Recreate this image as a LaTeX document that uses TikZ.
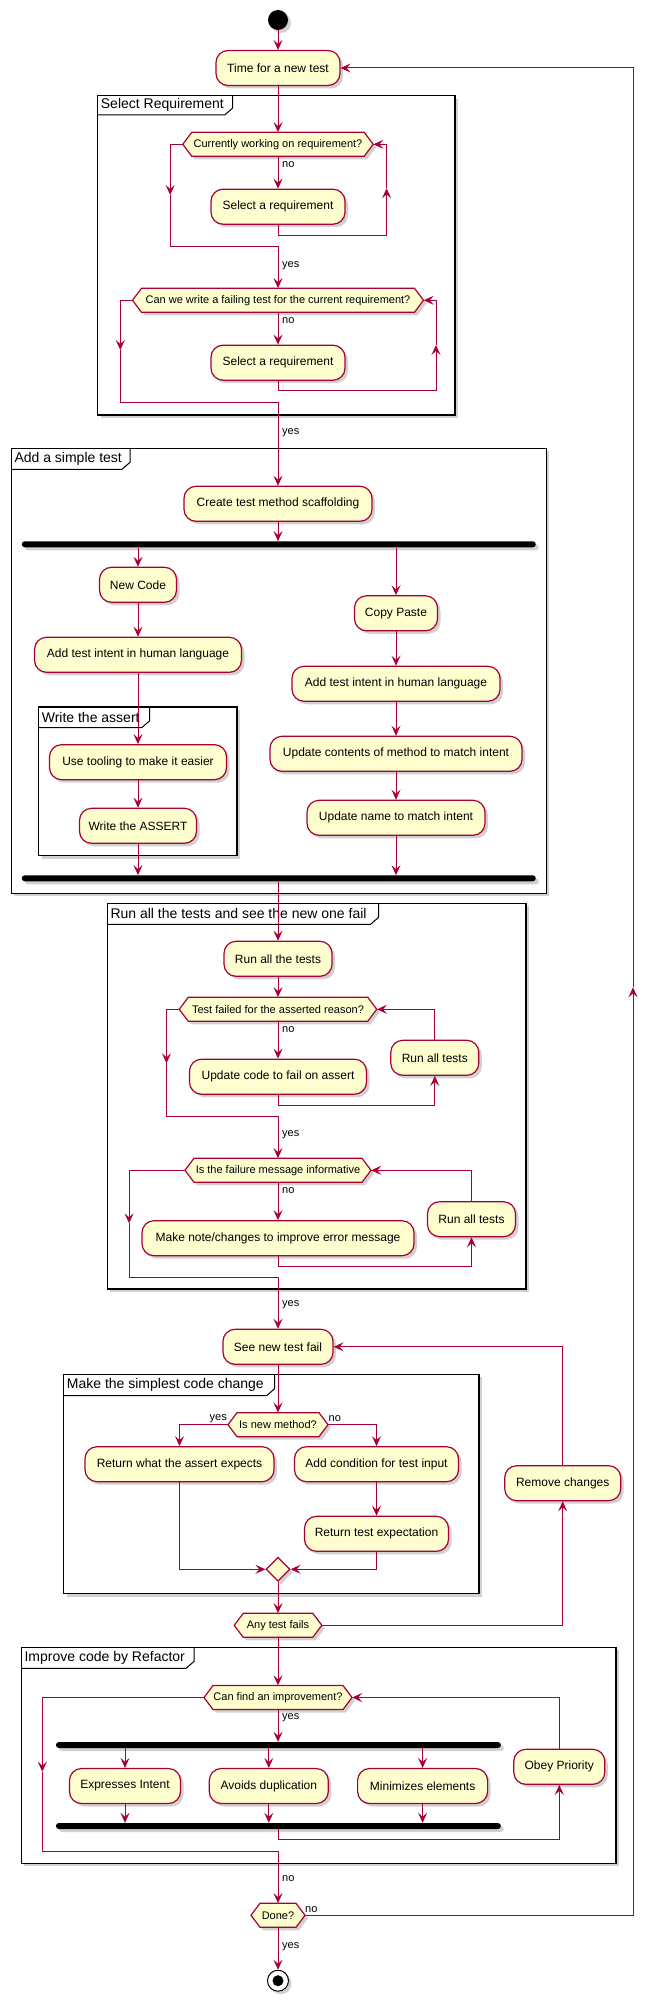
\documentclass[tikz,border=0pt]{standalone}
\usepackage{fontspec}
\setmainfont{Liberation Sans}
\usetikzlibrary{arrows.meta,shapes.geometric,shadows,calc}
\definecolor{umlred}{HTML}{A80036}
\definecolor{umlfill}{HTML}{FEFECE}
% name, cx, cy, width, text
\newcommand\mkhex[5]{%
  \path[hexshape] (#2-#4/2,#3) -- (#2-#4/2+9,#3-12) -- (#2+#4/2-9,#3-12) -- (#2+#4/2,#3)
     -- (#2+#4/2-9,#3+12) -- (#2-#4/2+9,#3+12) -- cycle;
  \node[dectext, minimum width=#4pt, minimum height=24pt] (#1) at (#2,#3) {#5};
}
% name, x1, y1, x2, y2, tabright, tabbottom, title
\newcommand\mkframe[8]{%
  \draw[framebox] (#2,#3) rectangle (#4,#5);
  \draw[tabline] (#2,#7) -- (#6-8,#7) -- (#6,#7-7) -- (#6,#3);
  \node[frametitle] (#1) at (#2+3,{(#3+#7)/2}) {#8};
}
\begin{document}
\begin{tikzpicture}[x=1pt,y=-1pt,
  shd/.style={drop shadow={shadow xshift=3pt,shadow yshift=-3pt,fill=black,opacity=0.18}},
  act/.style={draw=umlred, fill=umlfill, line width=1.2pt, rounded corners=12pt,
    minimum height=35pt, inner sep=2pt, font=\fontsize{12}{14}\selectfont, shd},
  hexshape/.style={draw=umlred, fill=umlfill, line width=1.2pt, shd},
  dectext/.style={inner sep=0pt, font=\fontsize{11}{13}\selectfont},
  lbl/.style={inner sep=0pt, anchor=west, font=\fontsize{11}{13}\selectfont},
  lblr/.style={inner sep=0pt, anchor=east, font=\fontsize{11}{13}\selectfont},
  bar/.style={fill=black, rounded corners=3pt, minimum height=6pt, inner sep=0pt, shd},
  framebox/.style={draw=black, line width=1.5pt, fill=white, shd},
  tabline/.style={draw=black, line width=1pt},
  frametitle/.style={inner sep=0pt, anchor=west, font=\fontsize{14}{16}\selectfont},
  arr/.style={draw=umlred, line width=1pt, -{Stealth[length=10pt,width=9pt,inset=4pt]}},
  ln/.style={draw=umlred, line width=1pt}
]
\useasboundingbox (0,0) rectangle (654,2007);

% ---------- frames ----------
\mkframe{f1}{97.7}{95.7}{455}{415}{232.7}{115}{Select Requirement}
\mkframe{f2}{11.3}{448.3}{546.3}{893.3}{130}{469.3}{Add a simple test}
\mkframe{f3}{38.6}{707}{237}{855.7}{149.7}{727.7}{Write the assert}
\mkframe{f4}{107.3}{903.3}{526.2}{1289}{378.6}{924.3}{Run all the tests and see the new one fail}
\mkframe{f5}{63.7}{1374.3}{479.2}{1593.7}{274.6}{1395.7}{Make the simplest code change}
\mkframe{f6}{21.4}{1647.3}{616}{1863.3}{194.1}{1668.3}{Improve code by Refactor}

% ---------- nodes ----------
\node[circle, fill=black, minimum size=20pt, inner sep=0pt, shd] (start) at (278,20) {};
\node[act, minimum width=124pt] (time) at (278,68) {Time for a new test};
\mkhex{d1}{278}{144.3}{190.4}{Currently working on requirement?}
\node[act, minimum width=134pt] (sel1) at (278,206.7) {Select a requirement};
\mkhex{d2}{278}{300.3}{291}{Can we write a failing test for the current requirement?}
\node[act, minimum width=134pt] (sel2) at (278,362.7) {Select a requirement};
\node[act, minimum width=188pt] (create) at (278,503.8) {Create test method scaffolding};
\node[bar, minimum width=514pt] (b1) at (278.8,544.3) {};
\node[act, minimum width=77pt] (newcode) at (138,584.8) {New Code};
\node[act, minimum width=207pt] (intentL) at (138,654.8) {Add test intent in human language};
\node[act, minimum width=177pt] (tooling) at (138,762.2) {Use tooling to make it easier};
\node[act, minimum width=117pt] (wassert) at (138,825.8) {Write the ASSERT};
\node[act, minimum width=83pt] (copy) at (396,613.3) {Copy Paste};
\node[act, minimum width=208pt] (intentR) at (396,683.8) {Add test intent in human language};
\node[act, minimum width=252pt] (updcont) at (396,753.8) {Update contents of method to match intent};
\node[act, minimum width=178pt] (updname) at (396,817.8) {Update name to match intent};
\node[bar, minimum width=514pt] (b2) at (278.8,878.3) {};
\node[act, minimum width=108pt] (runall) at (278,958.8) {Run all the tests};
\mkhex{d3}{278}{1009.3}{197.5}{Test failed for the asserted reason?}
\node[act, minimum width=177pt] (updcode) at (278,1076.7) {Update code to fail on assert};
\node[act, minimum width=88pt] (rt1) at (434.8,1057.8) {Run all tests};
\mkhex{d4}{278}{1170.3}{186}{Is the failure message informative}
\node[act, minimum width=272pt] (note) at (278,1238.2) {Make note/changes to improve error message};
\node[act, minimum width=88pt] (rt2) at (471.5,1219.2) {Run all tests};
\node[act, minimum width=110pt] (seenew) at (278,1346.8) {See new test fail};
\mkhex{d5}{278}{1424.7}{100}{Is new method?}
\node[act, minimum width=189pt] (retwhat) at (179.5,1464.2) {Return what the assert expects};
\node[act, minimum width=164pt] (addcond) at (376.5,1464.2) {Add condition for test input};
\node[act, minimum width=144pt] (rettest) at (376.5,1533.8) {Return test expectation};
\node[diamond, draw=umlred, fill=umlfill, line width=1.2pt, minimum width=24pt,
  minimum height=24pt, inner sep=0pt, shd] (merge) at (278,1569.3) {};
\mkhex{d6}{278}{1625.3}{87.6}{Any test fails}
\node[act, minimum width=116pt] (remove) at (562.7,1483.2) {Remove changes};
\mkhex{d7}{278}{1697.5}{148}{Can find an improvement?}
\node[bar, minimum width=445pt] (b3) at (278.4,1745) {};
\node[act, minimum width=111pt] (expr) at (125,1786) {Expresses Intent};
\node[act, minimum width=119pt] (avoid) at (268.8,1786) {Avoids duplication};
\node[act, minimum width=130pt] (minim) at (422.6,1786) {Minimizes elements};
\node[bar, minimum width=445pt] (b4) at (278.4,1826) {};
\node[act, minimum width=91pt] (obey) at (559.3,1766.8) {Obey Priority};
\mkhex{d8}{278}{1915.3}{54}{Done?}
\node[circle, draw=black, line width=1pt, fill=white, minimum size=21pt, inner sep=0pt, shd] (stop) at (278,1980.7) {};
\node[circle, fill=black, minimum size=11pt, inner sep=0pt] (stopin) at (stop) {};

% ---------- coordinates for bends ----------
\coordinate (c1) at (386.6,188.3);
\coordinate (c2) at (170.2,195);
\coordinate (m1) at (278,246.7);
\coordinate (c3) at (436,345);
\coordinate (c4) at (120.3,350);
\coordinate (m2) at (278,402.3);
\coordinate (c5) at (166.5,1063.3);
\coordinate (m3) at (278,1116.7);
\coordinate (c6) at (129.1,1223.3);
\coordinate (m4) at (278,1277.3);
\coordinate (m5) at (278,1839.3);
\coordinate (c7) at (42.3,1771.7);
\coordinate (m6) at (278,1851.7);
\coordinate (c8) at (633,987.3);

% ---------- connectors ----------
\draw[arr] (start) -- (time.north);
\draw[arr] (time.south) -- (d1.north);
\draw[arr] (d1.south) -- (sel1.north);
\draw[arr] (sel1.south) -- ++(0,10.3) -| (c1);
\draw[arr] (c1) |- (d1.east);
\draw[arr] (d1.west) -| (c2);
\draw[arr] (c2) |- (m1) -- (d2.north);
\draw[arr] (d2.south) -- (sel2.north);
\draw[arr] (sel2.south) -- ++(0,10) -| (c3);
\draw[arr] (c3) |- (d2.east);
\draw[arr] (d2.west) -| (c4);
\draw[arr] (c4) |- (m2) -- (create.north);
\draw[arr] (create.south) -- (create.south |- b1.north);
\draw[arr] (b1.south -| newcode.north) -- (newcode.north);
\draw[arr] (b1.south -| copy.north) -- (copy.north);
\draw[arr] (newcode.south) -- (newcode.south |- intentL.north);
\draw[arr] (intentL.south) -- (intentL.south |- tooling.north);
\draw[arr] (tooling.south) -- (tooling.south |- wassert.north);
\draw[arr] (wassert.south) -- (wassert.south |- b2.north);
\draw[arr] (copy.south) -- (copy.south |- intentR.north);
\draw[arr] (intentR.south) -- (intentR.south |- updcont.north);
\draw[arr] (updcont.south) -- (updcont.south |- updname.north);
\draw[arr] (updname.south) -- (updname.south |- b2.north);
\draw[arr] (b2.south -| runall.north) -- (runall.north);
\draw[arr] (runall.south) -- (d3.north);
\draw[arr] (d3.south) -- (updcode.north);
\draw[arr] (updcode.south) -- ++(0,10.3) -| (rt1.south);
\draw[arr] (rt1.north) |- (d3.east);
\draw[arr] (d3.west) -| (c5);
\draw[arr] (c5) |- (m3) -- (d4.north);
\draw[arr] (d4.south) -- (note.north);
\draw[arr] (note.south) -- ++(0,10) -| (rt2.south);
\draw[arr] (rt2.north) |- (d4.east);
\draw[arr] (d4.west) -| (c6);
\draw[arr] (c6) |- (m4) -- (seenew.north);
\draw[arr] (seenew.south) -- (d5.north);
\draw[arr] (d5.west) -| (retwhat.north);
\draw[arr] (d5.east) -| (addcond.north);
\draw[arr] (addcond.south) -- (addcond.south |- rettest.north);
\draw[arr] (retwhat.south) |- (merge.west);
\draw[arr] (rettest.south) |- (merge.east);
\draw[arr] (merge.south) -- (d6.north);
\draw[arr] (d6.east) -| (remove.south);
\draw[arr] (remove.north) |- (seenew.east);
\draw[arr] (d6.south) -- (d7.north);
\draw[arr] (d7.south) -- (d7.south |- b3.north);
\draw[arr] (b3.south -| expr.north) -- (expr.north);
\draw[arr] (b3.south -| avoid.north) -- (avoid.north);
\draw[arr] (b3.south -| minim.north) -- (minim.north);
\draw[arr] (expr.south) -- (expr.south |- b4.north);
\draw[arr] (avoid.south) -- (avoid.south |- b4.north);
\draw[arr] (minim.south) -- (minim.south |- b4.north);
\draw[arr] (b4.south -| m5) -- (m5) -| (obey.south);
\draw[arr] (obey.north) |- (d7.east);
\draw[arr] (d7.west) -| (c7);
\draw[arr] (c7) |- (m6) -- (d8.north);
\draw[arr] (d8.east) -| (c8);
\draw[arr] (c8) |- (time.east);
\draw[arr] (d8.south) -- (stop.north);

% ---------- edge labels ----------
\node[lbl] (l1) at (282,164.3) {no};
\node[lbl] (l2) at (282,265.7) {yes};
\node[lbl] (l3) at (282,320.7) {no};
\node[lbl] (l4) at (282,433) {yes};
\node[lbl] (l5) at (282,1029.3) {no};
\node[lbl] (l6) at (282,1135) {yes};
\node[lbl] (l7) at (282,1190.7) {no};
\node[lbl] (l8) at (282,1305) {yes};
\node[lblr] (l9) at (227,1418.3) {yes};
\node[lbl] (l10) at (328.5,1418.3) {no};
\node[lbl] (l11) at (282,1717.3) {yes};
\node[lbl] (l12) at (282,1878.3) {no};
\node[lbl] (l13) at (305,1909.3) {no};
\node[lbl] (l14) at (282,1946.7) {yes};
\end{tikzpicture}
\end{document}
